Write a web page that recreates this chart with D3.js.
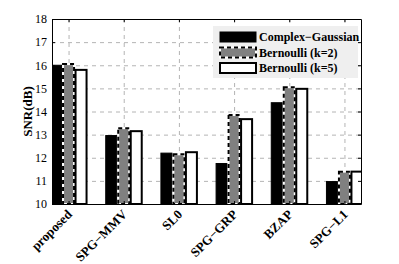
<!DOCTYPE html>
<html>
<head>
<meta charset="utf-8">
<script src="https://cdn.jsdelivr.net/npm/d3@7"></script>
<style>
body { margin: 0; background: #fff; }
text { font-family: "Liberation Serif", "Times New Roman", serif; }
</style>
</head>
<body>
<svg id="chart"></svg>
<script>
var categories = ["proposed", "SPG\u2212MMV", "SL0", "SPG\u2212GRP", "BZAP", "SPG\u2212L1"];
var seriesNames = ["Complex\u2212Gaussian", "Bernoulli (k=2)", "Bernoulli (k=5)"];
var gaussian = [16.0, 12.96, 12.2, 11.75, 14.38, 10.97];
var bern2 = [16.05, 13.28, 12.15, 13.85, 15.05, 11.4];
var bern5 = [15.8, 13.15, 12.24, 13.67, 14.98, 11.4];
var yTicks = [10, 11, 12, 13, 14, 15, 16, 17, 18];

var width = 399, height = 264;
var pL = 52, pR = 361, pT = 19, pB = 204;

var svg = d3.select('#chart')
  .attr('width', width)
  .attr('height', height);

var x = d3.scaleLinear().domain([0.7, 6.3]).range([pL, pR]);
var y = d3.scaleLinear().domain([10, 18]).range([pB, pT]);
var sub = d3.scaleBand().domain([0, 1, 2]).range([-18.75, 18.75]).paddingInner(0.12).paddingOuter(0.06);

svg.append("defs").append("clipPath").attr("id", "clip")
  .append("rect").attr("x", pL).attr("y", pT)
  .attr("width", pR - pL).attr("height", pB - pT);

// grid
var grid = svg.append("g").attr("stroke", "#b4b4b4").attr("stroke-dasharray", "4,4").attr("stroke-width", 1);
grid.selectAll("line.h").data(yTicks.slice(1, -1)).enter().append("line")
  .attr("x1", pL).attr("x2", pR)
  .attr("y1", function (d) { return y(d) + 0.5; }).attr("y2", function (d) { return y(d) + 0.5; });
grid.selectAll("line.v").data(categories).enter().append("line")
  .attr("y1", pT).attr("y2", pB)
  .attr("x1", function (d, i) { return x(i + 1) + 0.5; }).attr("x2", function (d, i) { return x(i + 1) + 0.5; });

// bars
var series = [gaussian, bern2, bern5];
var fills = ["#000", "#808080", "#fff"];
var bars = svg.append("g").attr("clip-path", "url(#clip)");
series.forEach(function (vals, s) {
  var g = bars.append("g");
  var sel = g.selectAll("rect").data(vals).enter();
  sel.append("rect")
    .attr("x", function (d, i) { return x(i + 1) + sub(s); })
    .attr("y", function (d) { return y(d); })
    .attr("width", sub.bandwidth())
    .attr("height", function (d) { return y(10) - y(d); })
    .attr("fill", fills[s])
    .attr("stroke", s == 1 ? "#fff" : "#000")
    .attr("stroke-width", s == 0 ? 1 : 2);
  if (s == 1) {
    sel.append("rect")
      .attr("x", function (d, i) { return x(i + 1) + sub(s); })
      .attr("y", function (d) { return y(d); })
      .attr("width", sub.bandwidth())
      .attr("height", function (d) { return y(10) - y(d); })
      .attr("fill", "none")
      .attr("stroke", "#000")
      .attr("stroke-width", 2)
      .attr("stroke-dasharray", "4,3");
  }
});

// axes box
var yAxisL = d3.axisLeft(y).tickValues(yTicks).tickSizeInner(-3).tickSizeOuter(0).tickPadding(5);
var gy = svg.append("g").attr("transform", "translate(" + pL + ",0)").call(yAxisL);
gy.selectAll("text").attr("font-size", 12).attr("fill", "#000").style("font-family", "Liberation Serif");
gy.selectAll("line, path").attr("stroke", "#000");
var gyr = svg.append("g").attr("transform", "translate(" + pR + ",0)")
  .call(d3.axisRight(y).tickValues(yTicks).tickSizeInner(-3).tickSizeOuter(0).tickFormat(""));
gyr.selectAll("line, path").attr("stroke", "#000");

var xTicks = d3.range(1, categories.length + 1);
var gx = svg.append("g").attr("transform", "translate(0," + pB + ")")
  .call(d3.axisBottom(x).tickValues(xTicks).tickSizeInner(-3).tickSizeOuter(0).tickFormat(""));
gx.selectAll("line, path").attr("stroke", "#000");
var gxt = svg.append("g").attr("transform", "translate(0," + pT + ")")
  .call(d3.axisTop(x).tickValues(xTicks).tickSizeInner(-3).tickSizeOuter(0).tickFormat(""));
gxt.selectAll("line, path").attr("stroke", "#000");

// category labels
svg.append("g").selectAll("text").data(categories).enter().append("text")
  .attr("transform", function (d, i) { return "translate(" + (x(i + 1) + 1) + "," + (pB + 8) + ") rotate(-45)"; })
  .attr("text-anchor", "end")
  .attr("dy", "0.35em")
  .attr("font-size", 13)
  .attr("font-weight", "bold")
  .text(function (d) { return d; });

// y label
svg.append("text")
  .attr("transform", "translate(32," + ((pT + pB) / 2) + ") rotate(-90)")
  .attr("text-anchor", "middle")
  .attr("font-size", 13)
  .attr("font-weight", "bold")
  .text("SNR(dB)");

// legend
var lg = svg.append("g").attr("transform", "translate(213,26)");
lg.append("rect").attr("width", 145).attr("height", 52).attr("fill", "#efefef");
seriesNames.forEach(function (name, s) {
  var row = lg.append("g").attr("transform", "translate(0," + (6 + s * 15.5) + ")");
  row.append("rect").attr("x", 7).attr("y", 0).attr("width", 36).attr("height", 10)
    .attr("fill", fills[s]).attr("stroke", s == 1 ? "#fff" : "#000").attr("stroke-width", s == 0 ? 1 : 2);
  if (s == 1) {
    row.append("rect").attr("x", 7).attr("y", 0).attr("width", 36).attr("height", 10)
      .attr("fill", "none").attr("stroke", "#000").attr("stroke-width", 2).attr("stroke-dasharray", "4,3");
  }
  row.append("text").attr("x", 46).attr("y", 5).attr("dy", "0.35em")
    .attr("font-size", 12).attr("font-weight", "bold").text(name);
});
</script>
</body>
</html>
